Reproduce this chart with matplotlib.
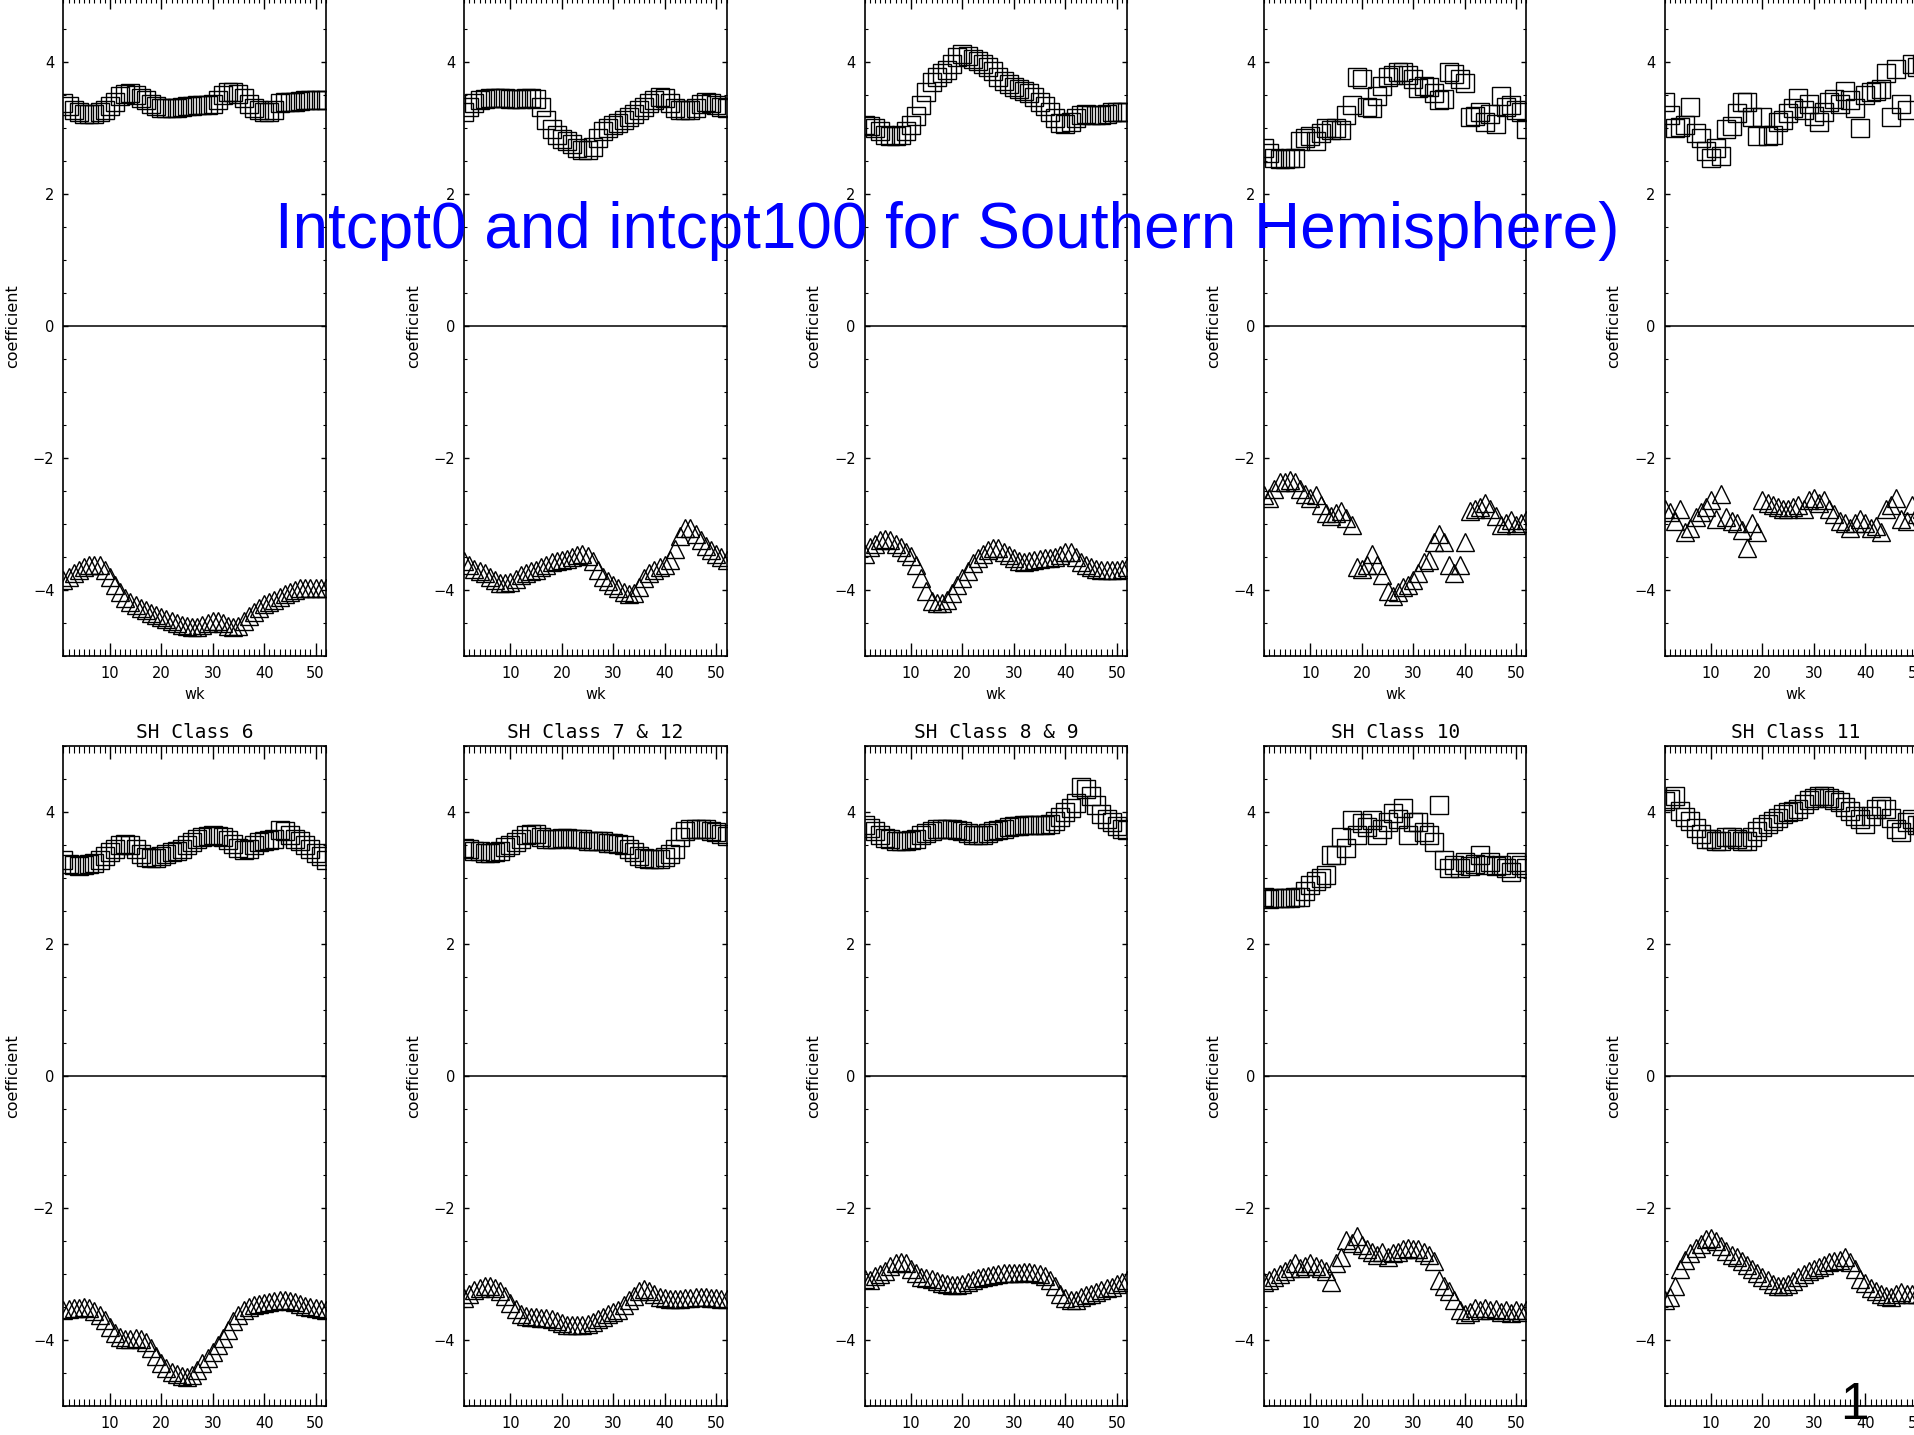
import matplotlib
matplotlib.use("Agg")
import matplotlib.pyplot as plt
from matplotlib.ticker import MultipleLocator, FixedLocator

weeks = list(range(1, 53))

titles = ["", "", "", "", "",
          "SH Class 6", "SH Class 7 & 12", "SH Class 8 & 9", "SH Class 10", "SH Class 11"]

p1_sq = [3.38, 3.33, 3.28, 3.24, 3.21, 3.22, 3.22, 3.25, 3.28, 3.33, 3.40, 3.48, 3.52, 3.53, 3.50, 3.46,
         3.42, 3.37, 3.33, 3.31, 3.30, 3.30, 3.31, 3.32, 3.33, 3.34, 3.35, 3.35, 3.35, 3.37, 3.42, 3.50,
         3.55, 3.55, 3.52, 3.45, 3.37, 3.30, 3.27, 3.25, 3.25, 3.28, 3.38, 3.40, 3.40, 3.40, 3.41, 3.42,
         3.42, 3.42, 3.42, 3.42]
p1_tri = [-3.85, -3.80, -3.75, -3.70, -3.66, -3.63, -3.62, -3.63, -3.70, -3.80, -3.92, -4.03, -4.12, -4.18,
          -4.23, -4.27, -4.31, -4.35, -4.38, -4.41, -4.44, -4.47, -4.50, -4.53, -4.55, -4.57, -4.56, -4.53,
          -4.50, -4.48, -4.48, -4.51, -4.55, -4.57, -4.55, -4.48, -4.40, -4.33, -4.27, -4.22, -4.18, -4.15,
          -4.11, -4.07, -4.03, -4.00, -3.98, -3.97, -3.97, -3.98, -3.98, -3.98]

p2_sq = [3.24, 3.32, 3.38, 3.42, 3.44, 3.45, 3.45, 3.45, 3.45, 3.44, 3.44, 3.44, 3.45, 3.45, 3.44, 3.32,
         3.12, 2.98, 2.90, 2.84, 2.80, 2.76, 2.70, 2.67, 2.67, 2.72, 2.85, 2.95, 3.00, 3.05, 3.08, 3.12,
         3.17, 3.22, 3.28, 3.32, 3.38, 3.42, 3.47, 3.45, 3.38, 3.30, 3.27, 3.27, 3.28, 3.30, 3.37, 3.40,
         3.38, 3.35, 3.32, 3.30]
p2_tri = [-3.57, -3.62, -3.68, -3.72, -3.75, -3.80, -3.85, -3.89, -3.90, -3.88, -3.83, -3.78, -3.75, -3.72,
          -3.70, -3.66, -3.62, -3.58, -3.56, -3.55, -3.53, -3.50, -3.47, -3.45, -3.48, -3.56, -3.70, -3.80,
          -3.87, -3.93, -3.98, -4.03, -4.07, -4.05, -3.95, -3.82, -3.75, -3.70, -3.66, -3.62, -3.55, -3.38,
          -3.18, -3.06, -3.07, -3.15, -3.25, -3.33, -3.40, -3.45, -3.50, -3.55]

p3_sq = [3.05, 3.03, 3.00, 2.95, 2.90, 2.88, 2.88, 2.90, 2.95, 3.05, 3.18, 3.35, 3.55, 3.70, 3.78, 3.83,
         3.88, 3.97, 4.08, 4.12, 4.10, 4.05, 4.02, 3.98, 3.92, 3.86, 3.78, 3.72, 3.67, 3.63, 3.60, 3.57,
         3.53, 3.47, 3.40, 3.33, 3.24, 3.15, 3.08, 3.06, 3.10, 3.15, 3.20, 3.21, 3.20, 3.20, 3.20, 3.22,
         3.24, 3.24, 3.24, 3.24]
p3_tri = [-3.45, -3.35, -3.30, -3.25, -3.23, -3.25, -3.30, -3.35, -3.42, -3.48, -3.62, -3.82, -4.02, -4.17,
          -4.20, -4.20, -4.15, -4.05, -3.93, -3.82, -3.72, -3.60, -3.52, -3.45, -3.40, -3.37, -3.37, -3.42,
          -3.47, -3.52, -3.56, -3.58, -3.57, -3.55, -3.53, -3.52, -3.52, -3.50, -3.47, -3.43, -3.43, -3.50,
          -3.58, -3.63, -3.66, -3.68, -3.70, -3.70, -3.70, -3.70, -3.68, -3.65]

p4_sq = [2.70, 2.62, 2.55, 2.53, 2.53, 2.55, 2.55, 2.80, 2.85, 2.88, 2.80, 2.93, 3.00, 2.97, 3.00, 2.97,
         3.20, 3.35, 3.78, 3.74, 3.32, 3.30, 3.48, 3.64, 3.78, 3.80, 3.85, 3.85, 3.80, 3.74, 3.61, 3.64,
         3.62, 3.54, 3.42, 3.44, 3.85, 3.82, 3.75, 3.68, 3.17, 3.18, 3.24, 3.10, 3.22, 3.07, 3.48, 3.32,
         3.35, 3.28, 3.25, 2.98]
p4_tri = [-2.57, -2.61, -2.47, -2.37, -2.37, -2.34, -2.37, -2.47, -2.54, -2.61, -2.57, -2.71, -2.84, -2.88,
          -2.84, -2.81, -2.91, -3.01, -3.65, -3.68, -3.62, -3.45, -3.62, -3.78, -4.02, -4.09, -4.04, -3.95,
          -3.92, -3.85, -3.75, -3.58, -3.55, -3.28, -3.15, -3.28, -3.62, -3.75, -3.62, -3.28, -2.81, -2.78,
          -2.74, -2.68, -2.78, -2.88, -3.01, -2.98, -2.94, -3.01, -2.98, -2.94]

p5_sq = [3.40, 3.20, 3.00, 3.02, 3.05, 3.32, 2.92, 2.85, 2.65, 2.55, 2.70, 2.58, 2.98, 3.04, 3.23, 3.40,
         3.40, 3.17, 2.88, 3.17, 2.88, 2.90, 3.10, 3.13, 3.23, 3.30, 3.46, 3.27, 3.37, 3.18, 3.10, 3.25,
         3.40, 3.44, 3.37, 3.57, 3.43, 3.30, 3.00, 3.50, 3.55, 3.56, 3.60, 3.83, 3.17, 3.90, 3.37, 3.27,
         3.97, 3.92, 3.98, 4.00]
p5_tri = [-2.78, -2.82, -2.95, -2.78, -3.13, -3.06, -2.89, -2.82, -2.75, -2.64, -2.92, -2.54, -2.89, -2.96,
          -2.99, -3.10, -3.37, -2.99, -3.13, -2.64, -2.68, -2.71, -2.75, -2.78, -2.78, -2.75, -2.71, -2.78,
          -2.64, -2.61, -2.68, -2.64, -2.78, -2.85, -2.96, -2.99, -3.06, -2.99, -2.92, -2.99, -3.06, -3.03,
          -3.13, -2.78, -2.71, -2.61, -2.92, -2.96, -2.71, -2.85, -2.78, -2.82]

p6_sq = [3.28, 3.22, 3.20, 3.19, 3.20, 3.21, 3.23, 3.27, 3.33, 3.39, 3.45, 3.50, 3.52, 3.50, 3.44, 3.37,
         3.32, 3.30, 3.31, 3.34, 3.37, 3.40, 3.42, 3.45, 3.50, 3.55, 3.59, 3.62, 3.64, 3.65, 3.64, 3.62,
         3.58, 3.52, 3.46, 3.43, 3.45, 3.50, 3.55, 3.57, 3.58, 3.60, 3.73, 3.72, 3.66, 3.60, 3.56, 3.50,
         3.44, 3.38, 3.33, 3.28]
p6_tri = [-3.55, -3.53, -3.52, -3.51, -3.50, -3.52, -3.56, -3.62, -3.70, -3.80, -3.90, -3.96, -3.98, -3.98,
          -3.97, -3.98, -4.04, -4.13, -4.24, -4.35, -4.43, -4.48, -4.52, -4.55, -4.57, -4.53, -4.45, -4.35,
          -4.27, -4.18, -4.08, -3.97, -3.85, -3.72, -3.62, -3.55, -3.50, -3.47, -3.45, -3.44, -3.43, -3.41,
          -3.40, -3.40, -3.41, -3.43, -3.45, -3.48, -3.50, -3.52, -3.53, -3.54]

p7_sq = [3.46, 3.45, 3.41, 3.41, 3.38, 3.38, 3.39, 3.42, 3.47, 3.51, 3.55, 3.60, 3.65, 3.67, 3.67, 3.62,
         3.60, 3.60, 3.60, 3.61, 3.61, 3.60, 3.60, 3.59, 3.57, 3.57, 3.57, 3.56, 3.54, 3.53, 3.52, 3.50,
         3.45, 3.39, 3.34, 3.30, 3.29, 3.29, 3.29, 3.32, 3.36, 3.45, 3.62, 3.72, 3.74, 3.74, 3.74, 3.74,
         3.71, 3.70, 3.67, 3.64]
p7_tri = [-3.37, -3.30, -3.24, -3.22, -3.19, -3.19, -3.21, -3.26, -3.33, -3.44, -3.53, -3.61, -3.64, -3.65,
          -3.66, -3.67, -3.67, -3.69, -3.72, -3.75, -3.77, -3.78, -3.78, -3.77, -3.76, -3.73, -3.69, -3.65,
          -3.61, -3.58, -3.54, -3.47, -3.40, -3.33, -3.26, -3.23, -3.26, -3.30, -3.35, -3.37, -3.38, -3.38,
          -3.38, -3.37, -3.36, -3.35, -3.35, -3.35, -3.37, -3.37, -3.38, -3.38]

p8_sq = [3.81, 3.76, 3.71, 3.65, 3.61, 3.59, 3.57, 3.57, 3.57, 3.58, 3.60, 3.65, 3.69, 3.72, 3.74, 3.75,
         3.75, 3.74, 3.73, 3.71, 3.69, 3.66, 3.65, 3.65, 3.68, 3.71, 3.73, 3.75, 3.77, 3.79, 3.79, 3.80,
         3.80, 3.80, 3.80, 3.80, 3.82, 3.86, 3.93, 4.00, 4.06, 4.14, 4.39, 4.35, 4.25, 4.11, 3.97, 3.90,
         3.85, 3.79, 3.75, 3.73]
p8_tri = [-3.07, -3.09, -3.03, -3.00, -2.95, -2.88, -2.84, -2.82, -2.84, -2.92, -2.98, -3.04, -3.06, -3.08,
          -3.11, -3.14, -3.16, -3.17, -3.17, -3.15, -3.12, -3.09, -3.06, -3.04, -3.03, -3.02, -3.00, -2.99,
          -2.98, -2.98, -2.98, -2.97, -2.97, -2.98, -3.00, -3.03, -3.09, -3.19, -3.30, -3.37, -3.40, -3.39,
          -3.35, -3.32, -3.30, -3.27, -3.24, -3.22, -3.20, -3.15, -3.12, -3.10]

p9_sq = [2.72, 2.68, 2.70, 2.70, 2.70, 2.70, 2.71, 2.72, 2.80, 2.90, 2.95, 3.00, 3.05, 3.35, 3.35, 3.62,
         3.46, 3.89, 3.65, 3.83, 3.78, 3.88, 3.65, 3.75, 3.85, 3.99, 3.90, 4.06, 3.65, 3.85, 3.85, 3.70,
         3.65, 3.55, 4.11, 3.27, 3.15, 3.20, 3.15, 3.25, 3.18, 3.22, 3.35, 3.20, 3.25, 3.18, 3.20, 3.15,
         3.10, 3.25, 3.20, 3.15]
p9_tri = [-3.12, -3.09, -3.04, -3.00, -2.95, -2.91, -2.84, -2.91, -2.88, -2.84, -2.88, -2.91, -2.95, -3.12,
          -2.84, -2.74, -2.49, -2.53, -2.43, -2.56, -2.63, -2.67, -2.71, -2.67, -2.74, -2.69, -2.67, -2.63,
          -2.60, -2.63, -2.62, -2.67, -2.71, -2.81, -3.09, -3.19, -3.26, -3.40, -3.54, -3.61, -3.58, -3.51,
          -3.54, -3.51, -3.54, -3.53, -3.58, -3.54, -3.60, -3.54, -3.58, -3.54]

p10_sq = [4.17, 4.20, 4.25, 4.02, 3.93, 3.86, 3.76, 3.67, 3.60, 3.60, 3.57, 3.57, 3.62, 3.62, 3.60, 3.57,
          3.57, 3.62, 3.72, 3.78, 3.82, 3.87, 3.92, 3.97, 4.00, 4.02, 4.05, 4.12, 4.18, 4.22, 4.25, 4.24,
          4.22, 4.18, 4.15, 4.08, 4.02, 3.95, 3.90, 3.82, 3.95, 4.05, 4.10, 4.05, 3.92, 3.75, 3.70, 3.85,
          3.90, 3.80, 3.80, 3.80]
p10_tri = [-3.39, -3.35, -3.18, -2.93, -2.79, -2.68, -2.61, -2.54, -2.47, -2.46, -2.50, -2.57, -2.65, -2.72,
           -2.75, -2.81, -2.86, -2.93, -2.98, -3.04, -3.09, -3.15, -3.18, -3.18, -3.15, -3.11, -3.05, -3.00,
           -2.96, -2.93, -2.89, -2.86, -2.82, -2.81, -2.79, -2.75, -2.82, -2.93, -3.07, -3.14, -3.21, -3.26,
           -3.30, -3.33, -3.35, -3.31, -3.28, -3.30, -3.30, -3.30, -3.30, -3.30]

squares = [p1_sq, p2_sq, p3_sq, p4_sq, p5_sq, p6_sq, p7_sq, p8_sq, p9_sq, p10_sq]
triangles = [p1_tri, p2_tri, p3_tri, p4_tri, p5_tri, p6_tri, p7_tri, p8_tri, p9_tri, p10_tri]

W, H = 1915, 1435
fig = plt.figure(figsize=(W / 100, H / 100), dpi=100)

col_left = [63.5, 464.1, 864.7, 1264.1, 1664.7]
ax_w = 262.4
ax_h = 659.5
row_bottom = [655.75, 1405.8]

for i in range(10):
    r, c = divmod(i, 5)
    left = col_left[c]
    bottom = row_bottom[r]
    ax = fig.add_axes([left / W, 1 - bottom / H, ax_w / W, ax_h / H])
    ax.plot(weeks, squares[i], linestyle="none", marker="s", markersize=12.3,
            markerfacecolor="none", markeredgecolor="black", markeredgewidth=1.0)
    ax.plot(weeks, triangles[i], linestyle="none", marker="^", markersize=12.3,
            markerfacecolor="none", markeredgecolor="black", markeredgewidth=1.0)
    ax.axhline(0, color="black", linewidth=1.1)
    ax.set_xlim(1, 52)
    ax.set_ylim(-5, 5)
    ax.xaxis.set_major_locator(FixedLocator([10, 20, 30, 40, 50]))
    ax.xaxis.set_minor_locator(MultipleLocator(1))
    ax.yaxis.set_major_locator(FixedLocator([-4, -2, 0, 2, 4]))
    ax.yaxis.set_minor_locator(MultipleLocator(0.5))
    ax.tick_params(axis="both", which="both", direction="in", top=True, right=True,
                   labelsize=10.5, colors="black")
    ax.tick_params(axis="x", which="major", length=9.4, width=1.0, pad=7.5)
    ax.tick_params(axis="x", which="minor", length=4.7, width=0.8)
    ax.tick_params(axis="y", which="major", length=3.8, width=1.0, pad=6.5)
    ax.tick_params(axis="y", which="minor", length=1.9, width=0.8)
    for s in ax.spines.values():
        s.set_linewidth(1.2)
    ax.set_xlabel("wk", fontsize=10.5, labelpad=4)
    ax.set_ylabel("coefficient", fontsize=11.5, labelpad=9)
    if titles[i]:
        ax.set_title(titles[i], fontsize=14, family="DejaVu Sans Mono", pad=6)

fig.text(0.4945, 1 - 248 / H, "Intcpt0 and intcpt100 for Southern Hemisphere)",
         color="#0000ff", fontsize=46, family="Liberation Sans",
         ha="center", va="baseline", zorder=10)
fig.text(1854 / W, 1 - 1419 / H, "1", color="black", fontsize=37,
         family="Liberation Sans", ha="center", va="baseline", zorder=10)

fig.savefig("out.png", dpi=100)
